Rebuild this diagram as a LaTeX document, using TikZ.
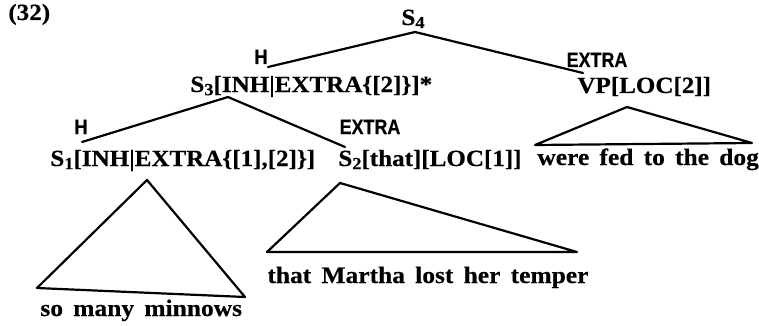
\documentclass[tikz,border=0pt]{standalone}
\usepackage{fontspec}
\setmainfont{Liberation Serif}
\newfontfamily\catfont[FakeStretch=1.08,FakeBold=0.4]{Liberation Serif Bold}
\newfontfamily\labfont[FakeStretch=0.86,FakeBold=0.3]{Liberation Sans Bold}
\newfontfamily\leaffont[FakeStretch=1.08,WordSpace=1.6,FakeBold=0.4]{Liberation Serif Bold}
\newcommand{\lsub}[1]{\raisebox{-0.3ex}{\fontsize{8.5}{8.5}\selectfont #1}}
\begin{document}
\begin{tikzpicture}[x=0.5pt,y=-0.5pt,
  cat/.style={inner sep=0pt,font=\fontsize{11.6}{14}\catfont},
  leaf/.style={inner sep=0pt,font=\fontsize{11.8}{14}\leaffont},
  fn/.style={inner sep=0pt,font=\fontsize{10.4}{12}\labfont},
  edge/.style={line width=1.1pt,line join=round,line cap=round}]
\useasboundingbox (0,0) rectangle (759,326);
\node[cat,anchor=base west] (n32) at (8,20) {(32)};
\node[cat,anchor=base] (s4) at (413,25) {S\lsub{4}};
\node[fn,anchor=base] (h1) at (261,64) {H};
\node[fn,anchor=base] (ex1) at (597,67) {EXTRA};
\node[cat,anchor=base west] (s3) at (190,92) {S\lsub{3}[INH|EXTRA\{[2]\}]*};
\node[cat,anchor=base west] (vp) at (577,93) {VP[LOC[2]]};
\node[fn,anchor=base] (h2) at (81,134) {H};
\node[fn,anchor=base] (ex2) at (370,134) {EXTRA};
\node[cat,anchor=base west] (s1) at (50,166) {S\lsub{1}[INH|EXTRA\{[1],[2]\}]};
\node[cat,anchor=base west] (s2) at (338,166) {S\lsub{2}[that][LOC[1]]};
\node[leaf,anchor=base west] (l3) at (537,165) {were fed to the dog};
\node[leaf,anchor=base west] (l2) at (267,283) {that Martha lost her temper};
\node[leaf,anchor=base west] (l1) at (40,316) {so many minnows};
% apex and end coordinates
\coordinate (a4) at (415,32);
\coordinate (e4l) at (268,67);
\coordinate (e4r) at (583,73);
\coordinate (a3) at (228,97);
\coordinate (e3l) at (82,142);
\coordinate (e3r) at (345,147);
\coordinate (avp) at (627,107);
\coordinate (bvpl) at (535,145);
\coordinate (bvpr) at (752,143);
\coordinate (a1) at (147,180);
\coordinate (b1l) at (37,288);
\coordinate (b1r) at (245,297);
\coordinate (a2) at (340,183);
\coordinate (b2l) at (267,252);
\coordinate (b2r) at (577,252);
\draw[edge] (e4l) -- (a4) -- (e4r);
\draw[edge] (e3l) -- (a3) -- (e3r);
\draw[edge] (avp) -- (bvpl) -- (bvpr) -- cycle;
\draw[edge] (a1) -- (b1l) -- (b1r) -- cycle;
\draw[edge] (a2) -- (b2l) -- (b2r) -- cycle;
\end{tikzpicture}
\end{document}
